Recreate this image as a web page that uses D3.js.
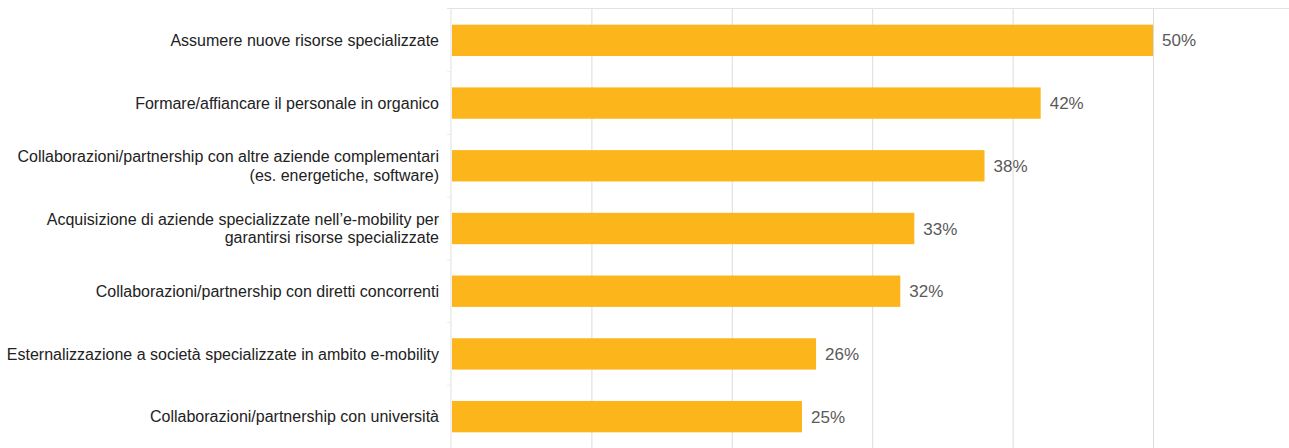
<!DOCTYPE html>
<html>
<head>
<meta charset="utf-8">
<script src="https://cdn.jsdelivr.net/npm/d3@7"></script>
<style>
  body { margin: 0; background: #fff; }
  svg { display: block; font-family: "Liberation Sans", Arial, sans-serif; }
</style>
</head>
<body>
<script>
// categories (two-line labels split on "|")
const categories = [
  "Assumere nuove risorse specializzate",
  "Formare/affiancare il personale in organico",
  "Collaborazioni/partnership con altre aziende complementari|(es. energetiche, software)",
  "Acquisizione di aziende specializzate nell\u2019e-mobility per|garantirsi risorse specializzate",
  "Collaborazioni/partnership con diretti concorrenti",
  "Esternalizzazione a società specializzate in ambito e-mobility",
  "Collaborazioni/partnership con università"
];
const values = [50, 42, 38, 33, 32, 26, 25];
const xTicks = [0, 10, 20, 30, 40, 50, 60];

const width = 1289;
const height = 448;
const margin = {top: 9, right: 0, bottom: 0, left: 451};

const svg = d3.select("body").append("svg")
    .attr("width", width)
    .attr("height", height);

// scales
const x = d3.scaleLinear()
    .domain([0, 60])
    .range([margin.left, margin.left + 60 * 14.04]);

const y = d3.scaleBand()
    .domain(categories)
    .range([margin.top, height])
    .paddingInner(0.5)
    .paddingOuter(0.25);

// vertical gridlines
svg.append("g")
    .selectAll("line")
    .data(xTicks.slice(1))
    .join("line")
      .attr("x1", d => x(d) + 0.5)
      .attr("x2", d => x(d) + 0.5)
      .attr("y1", margin.top)
      .attr("y2", height)
      .attr("stroke", "#dcdcdc");

// top border
svg.append("line")
    .attr("x1", margin.left - 4)
    .attr("x2", width)
    .attr("y1", margin.top - 0.5)
    .attr("y2", margin.top - 0.5)
    .attr("stroke", "#e2e2e2");

// left axis with faint ticks between bands
const yAxis = svg.append("g")
    .attr("transform", "translate(" + (margin.left - 0.5) + ",0)")
    .call(d3.axisLeft(y).tickSize(0).tickFormat(""));
yAxis.select(".domain").attr("stroke", "#e0e0e0");

const step = y.step();
svg.append("g")
    .selectAll("line")
    .data(categories.slice(1))
    .join("line")
      .attr("x1", margin.left - 4)
      .attr("x2", margin.left)
      .attr("y1", d => y(d) - step * 0.25)
      .attr("y2", d => y(d) - step * 0.25)
      .attr("stroke", "#ececec");

// bars
svg.append("g")
    .selectAll("rect")
    .data(values)
    .join("rect")
      .attr("x", x(0) + 1)
      .attr("y", (d, i) => y(categories[i]))
      .attr("width", d => x(d) - x(0) - 1)
      .attr("height", y.bandwidth())
      .attr("fill", "#fcb61c");

// value labels
svg.append("g")
    .selectAll("text")
    .data(values)
    .join("text")
      .attr("x", d => x(d) + 9)
      .attr("y", (d, i) => y(categories[i]) + y.bandwidth() / 2)
      .attr("dy", "0.36em")
      .attr("fill", "#5a5a5a")
      .style("font-size", "17px")
      .text(d => d + "%");

// category labels
const labels = svg.append("g")
    .selectAll("text")
    .data(categories)
    .join("text")
      .attr("text-anchor", "end")
      .attr("fill", "#222")
      .style("font-size", "16px")
      .attr("transform", d => "translate(439," + (y(d) + y.bandwidth() / 2) + ")");

labels.each(function(d) {
  const lines = d.split("|");
  const t = d3.select(this);
  lines.forEach((line, j) => {
    t.append("tspan")
      .attr("x", 0)
      .attr("y", (j - (lines.length - 1) / 2) * 18.5)
      .attr("dy", "0.35em")
      .text(line);
  });
});
</script>
</body>
</html>
